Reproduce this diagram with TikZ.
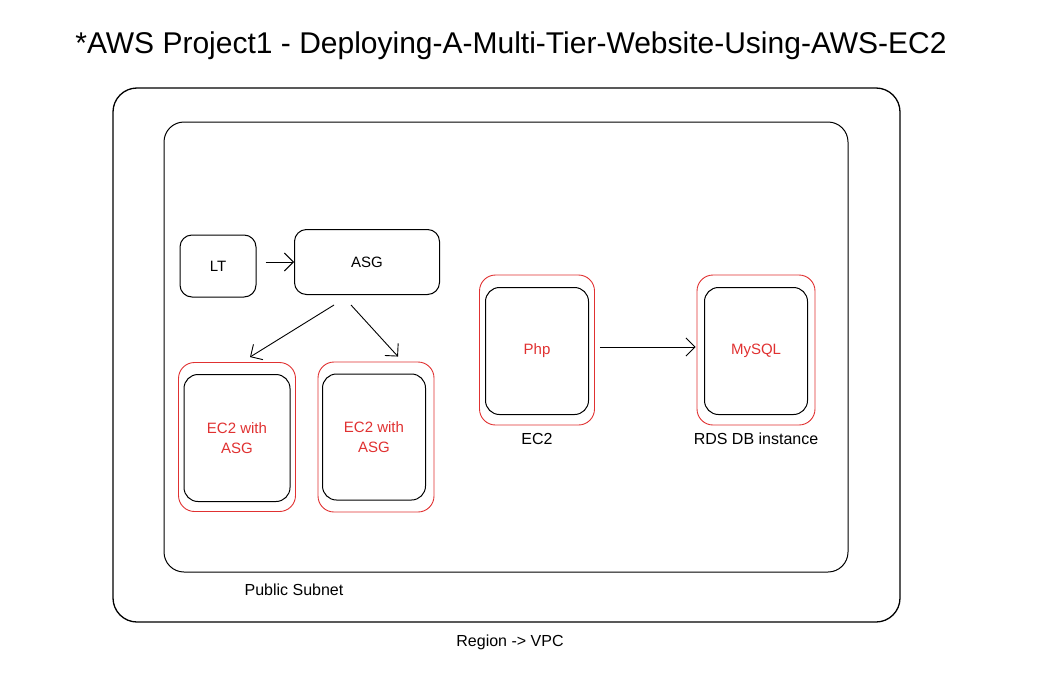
\documentclass[tikz,border=0pt]{standalone}
\usepackage{fontspec}
\setmainfont{Liberation Sans}
\usepackage{tikz}
\usetikzlibrary{positioning}
\usetikzlibrary{arrows.meta}
\definecolor{xred}{HTML}{E03131}
\tikzset{
  box/.style={draw=black, line width=1pt, rounded corners=12pt, font=\fontsize{15}{17}\selectfont},
  redbox/.style={draw=xred, line width=0.9pt, rounded corners=16pt},
  inbox/.style={draw=black, line width=1pt, rounded corners=14pt, text=xred, align=center, font=\fontsize{15}{20}\selectfont},
  caption/.style={font=\fontsize{16}{18}\selectfont},
  arr/.style={-{Straight Barb[length=9pt,width=18pt]}, line width=0.9pt}
}
\begin{document}
\begin{tikzpicture}[x=1pt,y=-1pt]
            \useasboundingbox (0,0) rectangle (1049,680);
            % Title
            \node (title) at (511,46) {\fontsize{30}{34}\selectfont *AWS Project1 - Deploying-A-Multi-Tier-Website-Using-AWS-EC2};
            % Region -> VPC and Public Subnet
            \draw[line width=1.3pt, rounded corners=24pt] (113,88) rectangle (900,622);
            \draw[line width=1pt, rounded corners=20pt] (164,122) rectangle (848,572);
            \node[caption] (vpc) at (510,642) {Region -> VPC};
            \node[caption] (subnet) at (294,590) {Public Subnet};
            % Launch template and auto scaling group
            \node[box, minimum width=76pt, minimum height=62pt] (lt) at (218,266) {LT};
            \node[box, minimum width=145pt, minimum height=65pt] (asg) at (367,262) {ASG};
            \draw[arr] (lt.east) ++(9pt,4pt) coordinate (ltout) (ltout) -- (ltout -| asg.west);
            % EC2 instances with ASG
            \node[redbox, minimum width=117pt, minimum height=149pt] (ec2aout) at (237,437) {};
            \node[inbox, minimum width=106pt, minimum height=127pt] (ec2a) at (237,438) {EC2 with\\ASG};
            \node[redbox, minimum width=116pt, minimum height=150pt] (ec2bout) at (376,437) {};
            \node[inbox, minimum width=103pt, minimum height=126pt] (ec2b) at (374,437) {EC2 with\\ASG};
            \draw[arr] ([xshift=-33pt,yshift=-10pt]asg.south) -- ([xshift=13pt,yshift=5pt]ec2aout.north);
            \draw[arr] ([xshift=-16pt,yshift=-10pt]asg.south) -- ([xshift=22pt,yshift=5pt]ec2bout.north);
            % Php on EC2
            \node[redbox, minimum width=115pt, minimum height=150pt] (phpout) at (537,350) {};
            \node[inbox, minimum width=103pt, minimum height=127pt] (php) at (537,351) {Php};
            \node[caption, below=4pt of phpout] (ec2) {EC2};
            % MySQL on RDS
            \node[redbox, minimum width=118pt, minimum height=150pt] (sqlout) at (756,350) {};
            \node[inbox, minimum width=103pt, minimum height=127pt] (sql) at (756,351) {MySQL};
            \node[caption, below=4pt of sqlout] (rds) {RDS DB instance};
            \draw[arr, shorten <=5pt, shorten >=1pt] ([yshift=3pt]phpout.east) -- ([yshift=3pt]sqlout.west);
        \end{tikzpicture}
\end{document}
